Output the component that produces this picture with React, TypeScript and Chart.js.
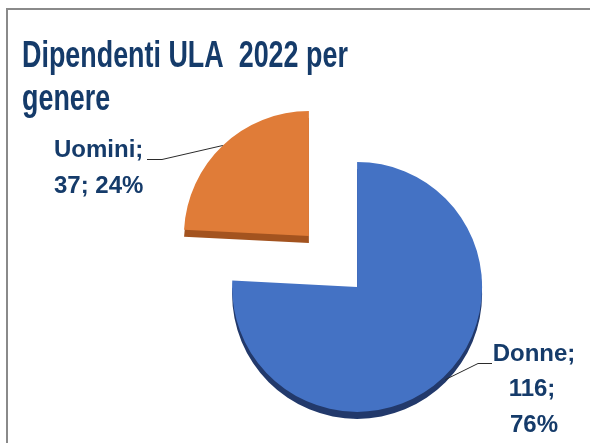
import React, { useEffect, useRef } from 'react';
import { Chart, registerables } from 'chart.js';

Chart.register(...registerables);

// ---- data ----
const categories = ['Donne', 'Uomini'];
const values = [116, 37];
const percentLabels = ['76%', '24%'];
const titleLines = ['Dipendenti ULA  2022 per', 'genere'];

// ---- styles ----
const sliceColors = ['#4472C4', '#E07C38'];
const sideColors = ['#22396B', '#A3531F'];
const explode = [35, 35];
const navy = '#153B6A';
const DEPTH = 7;

function arcGeom(el: any) {
  const p = el.getProps(['x', 'y', 'startAngle', 'endAngle', 'outerRadius'], true);
  const mid = (p.startAngle + p.endAngle) / 2;
  return { cx: p.x, cy: p.y, r: p.outerRadius, start: p.startAngle, end: p.endAngle, mid };
}

// explode slices: shift each arc's centre along its bisector
const explodePlugin = {
  id: 'explode',
  afterDatasetsUpdate(chart: any) {
    const meta = chart.getDatasetMeta(0);
    meta.data.forEach((el: any, i: number) => {
      const mid = (el.startAngle + el.endAngle) / 2;
      el.x = el.x + Math.cos(mid) * explode[i];
      el.y = el.y + Math.sin(mid) * explode[i];
    });
  },
};

const framePlugin = {
  id: 'frame',
  beforeDraw(chart: any) {
    const ctx = chart.ctx;
    ctx.save();
    ctx.fillStyle = '#ffffff';
    ctx.fillRect(0, 0, chart.width, chart.height);
    ctx.fillStyle = '#8a8a8a';
    ctx.fillRect(6, 8, chart.width - 6, 2);
    ctx.fillRect(6, 8, 2, chart.height - 8);
    ctx.restore();
  },
};

const sidePlugin = {
  id: 'side3d',
  beforeDatasetsDraw(chart: any) {
    const ctx = chart.ctx;
    const meta = chart.getDatasetMeta(0);
    ctx.save();
    meta.data.forEach((el: any, i: number) => {
      const g = arcGeom(el);
      ctx.beginPath();
      ctx.moveTo(g.cx, g.cy + DEPTH);
      ctx.arc(g.cx, g.cy + DEPTH, g.r, g.start, g.end);
      ctx.closePath();
      ctx.fillStyle = sideColors[i];
      ctx.fill();
    });
    ctx.restore();
  },
};

const labelPlugin = {
  id: 'labels',
  afterDatasetsDraw(chart: any) {
    const ctx = chart.ctx;
    const meta = chart.getDatasetMeta(0);
    ctx.save();
    ctx.font = 'bold 24px "Liberation Sans", Arial, sans-serif';
    ctx.fillStyle = navy;
    ctx.textBaseline = 'alphabetic';

    // Donne label (right, centered lines)
    const gD = arcGeom(meta.data[0]);
    const pD = { x: gD.cx + Math.cos(gD.mid) * (gD.r + 3), y: gD.cy + Math.sin(gD.mid) * (gD.r + 3) };
    ctx.textAlign = 'center';
    ctx.fillText(categories[0] + ';', 534, 361);
    ctx.fillText(values[0] + ';', 532, 396);
    ctx.fillText(percentLabels[0], 534, 432);

    // Uomini label (left)
    const gU = arcGeom(meta.data[1]);
    const pU = { x: gU.cx + Math.cos(gU.mid) * gU.r, y: gU.cy + Math.sin(gU.mid) * gU.r };
    ctx.textAlign = 'left';
    ctx.fillText(categories[1] + ';', 54, 157);
    ctx.fillText(values[1] + '; ' + percentLabels[1], 54, 193);

    // leader lines
    ctx.strokeStyle = '#2b2b2b';
    ctx.lineWidth = 1;
    ctx.beginPath();
    ctx.moveTo(147, 159.5);
    ctx.lineTo(162, 159.5);
    ctx.lineTo(pU.x, pU.y);
    ctx.stroke();
    ctx.beginPath();
    ctx.moveTo(492, 363.5);
    ctx.lineTo(478, 363.5);
    ctx.lineTo(pD.x, pD.y);
    ctx.stroke();

    // title
    ctx.font = 'bold 37px "Liberation Sans", Arial, sans-serif';
    ctx.textAlign = 'left';
    ctx.translate(22, 0);
    ctx.scale(0.727, 1);
    ctx.fillText(titleLines[0], 0, 67);
    ctx.fillText(titleLines[1], 0, 110);
    ctx.restore();
  },
};

export default function App() {
  const ref = useRef<HTMLCanvasElement | null>(null);

  useEffect(() => {
    if (!ref.current) return;
    const chart = new Chart(ref.current, {
      type: 'pie',
      data: {
        labels: categories,
        datasets: [
          {
            data: values,
            backgroundColor: sliceColors,
            borderWidth: 0,
            radius: 125,
          } as any,
        ],
      },
      options: {
        animation: false,
        responsive: false,
        rotation: 0,
        layout: { padding: { left: 76, right: 0, top: 80, bottom: 0 } },
        plugins: {
          legend: { display: false },
          tooltip: { enabled: false },
          title: { display: false },
        },
      },
      plugins: [explodePlugin, framePlugin, sidePlugin, labelPlugin],
    });
    return () => chart.destroy();
  }, []);

  return (
    <div style={{ position: 'absolute', left: 0, top: 0, width: 590, height: 443 }}>
      <canvas ref={ref} width={590} height={443} style={{ width: 590, height: 443, display: 'block' }} />
    </div>
  );
}
